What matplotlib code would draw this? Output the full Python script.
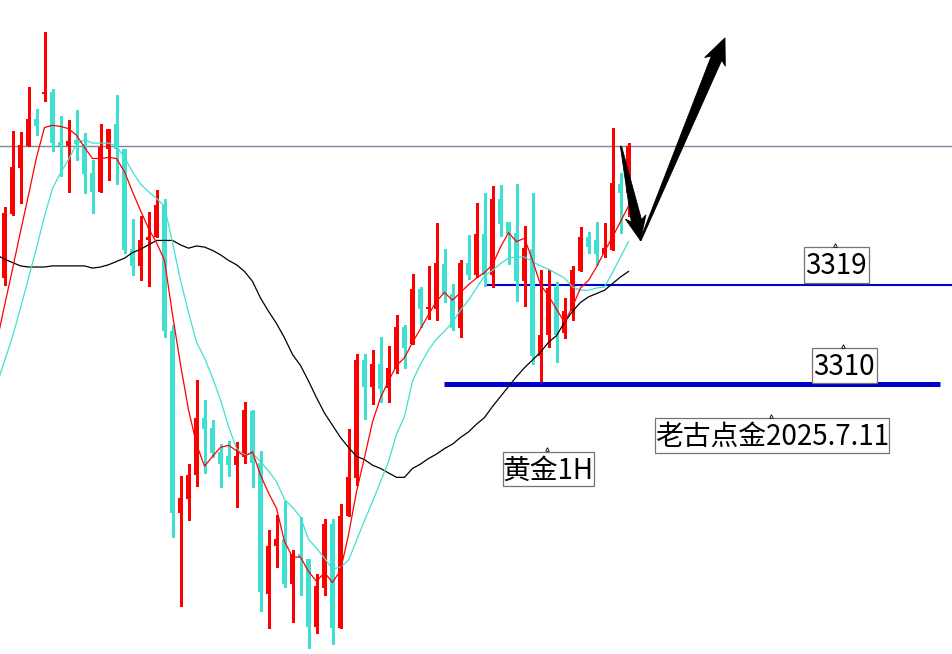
import numpy as np
import matplotlib
matplotlib.use("Agg")
import matplotlib.pyplot as plt
from matplotlib.patches import Polygon, Rectangle
from matplotlib.transforms import Affine2D, IdentityTransform

# ---- Gold 1H candles (price) ----
opens = [3319.6, 3325.4, 3329.5, 3331.5, 3334.0, 3336.2, 3336.4, 3331.9, 3331.5, 3332.1,
         3331.7, 3329.1, 3327.4, 3331.3, 3333.5, 3331.3, 3322.2, 3320.7, 3323.0, 3323.3,
         3326.2, 3314.8, 3298.4, 3299.6, 3301.8, 3307.0, 3306.1, 3303.9, 3303.5, 3302.7,
         3303.4, 3307.6, 3302.9, 3291.1, 3295.4, 3296.0, 3292.0, 3294.7, 3294.2, 3288.1,
         3291.6, 3297.4, 3288.0, 3298.1, 3301.5, 3312.2, 3309.8, 3311.8, 3309.7, 3311.4,
         3315.2, 3313.6, 3318.6, 3316.8, 3316.8, 3320.9, 3318.2, 3315.1, 3321.0, 3319.9,
         3323.6, 3319.9, 3326.7, 3324.7, 3323.7, 3319.3, 3322.2, 3312.6, 3314.5, 3318.8,
         3314.6, 3316.6, 3320.2, 3323.3, 3323.0, 3321.8, 3322.1, 3328.1, 3327.3]
highs = [3326.0, 3332.9, 3332.8, 3336.9, 3334.9, 3341.8, 3336.7, 3334.2, 3333.9, 3334.8,
         3332.7, 3330.3, 3333.5, 3333.1, 3336.1, 3331.3, 3324.9, 3325.2, 3325.6, 3327.6,
         3326.7, 3315.4, 3301.7, 3302.8, 3310.4, 3308.6, 3306.8, 3304.6, 3304.9, 3304.8,
         3308.4, 3307.7, 3304.0, 3296.8, 3298.2, 3299.5, 3295.0, 3298.0, 3294.2, 3292.9,
         3297.8, 3297.8, 3299.2, 3306.0, 3312.7, 3312.7, 3313.1, 3314.3, 3313.5, 3316.3,
         3315.4, 3320.0, 3318.8, 3320.7, 3324.6, 3322.2, 3319.1, 3321.2, 3323.5, 3326.4,
         3327.3, 3327.9, 3328.0, 3324.7, 3328.1, 3324.3, 3327.3, 3320.3, 3320.3, 3319.2,
         3317.8, 3320.7, 3324.2, 3323.8, 3324.7, 3324.6, 3333.2, 3329.1, 3331.8]
lows = [3319.0, 3325.3, 3326.4, 3331.5, 3332.5, 3335.6, 3331.1, 3328.8, 3327.4, 3330.3,
        3327.3, 3325.5, 3327.4, 3328.5, 3328.1, 3321.9, 3319.9, 3319.4, 3318.9, 3323.3,
        3314.3, 3296.2, 3290.0, 3297.7, 3300.8, 3302.0, 3303.4, 3300.7, 3301.7, 3298.9,
        3302.9, 3300.7, 3289.5, 3288.0, 3293.5, 3291.7, 3288.5, 3291.0, 3286.2, 3287.5,
        3291.0, 3286.5, 3288.0, 3298.1, 3300.9, 3306.9, 3308.2, 3308.4, 3308.4, 3311.0,
        3311.5, 3313.6, 3315.2, 3315.9, 3315.8, 3317.4, 3314.9, 3314.3, 3319.5, 3319.7,
        3318.9, 3318.8, 3323.4, 3320.9, 3317.5, 3317.1, 3311.8, 3310.3, 3313.4, 3312.0,
        3314.2, 3315.8, 3320.2, 3321.9, 3320.8, 3321.5, 3322.1, 3323.7, 3325.2]
closes = [3325.5, 3329.6, 3331.6, 3334.0, 3333.3, 3336.4, 3331.8, 3331.5, 3332.0, 3331.7,
          3329.0, 3327.4, 3331.4, 3333.1, 3331.3, 3322.1, 3320.7, 3323.0, 3323.3, 3326.2,
          3314.8, 3298.4, 3299.7, 3301.8, 3307.0, 3306.0, 3303.8, 3302.8, 3302.7, 3303.5,
          3307.7, 3302.9, 3291.2, 3295.4, 3296.0, 3292.0, 3294.7, 3294.3, 3288.1, 3291.8,
          3297.4, 3288.0, 3298.1, 3301.6, 3312.2, 3309.8, 3311.8, 3309.6, 3311.5, 3315.2,
          3313.3, 3318.6, 3316.8, 3317.0, 3321.0, 3318.2, 3315.1, 3321.0, 3319.9, 3323.6,
          3319.9, 3326.7, 3324.5, 3323.6, 3319.3, 3322.3, 3312.6, 3314.5, 3318.7, 3314.5,
          3316.6, 3320.3, 3323.3, 3322.4, 3321.8, 3322.3, 3328.2, 3327.3, 3331.5]

# ---- moving averages, starting one bar before the first visible candle ----
ma_fast = [3313.7, 3317.1, 3320.4, 3323.8, 3327.1, 3330.5, 3333.2, 3333.4, 3333.3, 3333.1, 3332.5,
           3331.4, 3330.4, 3330.4, 3330.5, 3330.4, 3329.2, 3327.4, 3325.7, 3324.1, 3322.8,
           3321.2, 3316.3, 3311.8, 3307.7, 3304.6, 3302.6, 3303.5, 3304.3, 3304.5, 3304.0,
           3303.5, 3303.9, 3301.8, 3300.2, 3298.8, 3295.8, 3294.4, 3294.4, 3293.1, 3292.2,
           3293.0, 3292.1, 3293.2, 3296.4, 3300.3, 3303.4, 3306.6, 3308.8, 3310.3, 3311.7,
           3312.4, 3313.8, 3315.0, 3316.3, 3317.5, 3318.3, 3317.6, 3318.3, 3319.0, 3319.6,
           3320.1, 3320.8, 3322.4, 3323.7, 3322.9, 3323.2, 3321.2, 3319.0, 3318.0, 3316.8,
           3315.6, 3317.0, 3318.7, 3319.4, 3320.6, 3322.0, 3323.3, 3324.7, 3326.1]
ma_mid = [3309.9, 3312.1, 3314.3, 3316.9, 3319.6, 3322.3, 3325.2, 3327.7, 3329.1, 3330.3, 3331.7,
          3332.1, 3331.8, 3331.8, 3331.8, 3331.5, 3330.5, 3329.2, 3328.1, 3327.4, 3326.8,
          3326.1, 3322.8, 3319.4, 3316.5, 3313.8, 3312.4, 3310.6, 3308.6, 3306.2, 3304.2,
          3303.6, 3303.8, 3303.0, 3302.2, 3301.2, 3299.6, 3298.9, 3298.0, 3296.0, 3295.2,
          3294.3, 3293.3, 3293.5, 3294.1, 3295.9, 3297.7, 3299.4, 3301.2, 3303.0, 3305.5,
          3307.1, 3310.3, 3311.8, 3313.1, 3314.1, 3314.8, 3315.6, 3316.7, 3317.6, 3318.7,
          3319.8, 3320.3, 3320.9, 3321.4, 3321.5, 3321.5, 3321.1, 3320.7, 3320.4, 3320.0,
          3319.6, 3318.8, 3318.5, 3318.5, 3318.7, 3318.8, 3320.1, 3321.5, 3322.9]
ma_slow = [3321.7, 3321.3, 3321.0, 3320.7, 3320.6, 3320.6, 3320.6, 3320.7, 3320.7, 3320.7, 3320.7,
           3320.7, 3320.5, 3320.6, 3320.8, 3321.1, 3321.4, 3321.9, 3322.2, 3322.6, 3323.0,
           3323.0, 3323.0, 3322.6, 3322.3, 3322.5, 3322.4, 3322.1, 3321.7, 3321.2, 3320.8,
           3320.2, 3319.3, 3317.8, 3316.6, 3315.5, 3314.2, 3312.7, 3311.7, 3310.3, 3308.8,
           3307.4, 3306.3, 3305.2, 3304.3, 3303.5, 3303.2, 3302.7, 3302.4, 3302.0, 3301.6,
           3301.6, 3302.4, 3302.8, 3303.3, 3303.7, 3304.2, 3304.6, 3305.2, 3305.7, 3306.4,
           3307.0, 3308.0, 3308.9, 3309.8, 3310.7, 3311.5, 3312.2, 3312.9, 3313.8, 3314.4,
           3315.6, 3316.6, 3317.4, 3317.9, 3318.2, 3318.5, 3319.1, 3319.7, 3320.2]

# ---- reference levels and annotations ----
resistance_level = 3331.5
support_levels = [3319, 3310]
support_spans = [(60.06, 118.5), (54.94, 116.94)]
support_widths = [1.5, 3.6]
chart_title = "黄金1H"
author_tag = "老古点金2025.7.11"
# forecast path: pull-back leg then rally leg (bar index, price)
forecast_path = [(77.06, 3331.5), (79.5, 3323.0), (90.06, 3341.3)]

UP = "#ff0000"
DOWN = "#40e0d0"
BLUE = "#0000cc"
FONT = ["Noto Sans CJK SC", "DejaVu Sans"]

W, H = 952, 654
fig = plt.figure(figsize=(W / 100, H / 100), dpi=100)
ax = fig.add_axes([0, 0, 1, 1])
ax.axis("off")
ax.set_xlim(-0.5625, 118.4375)
ax.set_ylim(3285.64, 3344.72)

o = np.array(opens); h = np.array(highs); l = np.array(lows); c = np.array(closes)
x = np.arange(len(o))
up = c >= o
cols = np.where(up, UP, DOWN)

# wicks and bodies
ax.vlines(x, l, h, colors=cols, linewidth=1.0, antialiased=False, zorder=3)
body_h = np.where(np.abs(c - o) < 0.15, 0.15, c - o)
ax.bar(x, body_h, bottom=o, width=0.72, color=cols, linewidth=0,
       antialiased=False, zorder=4)

# moving averages
xm = np.arange(-1, len(ma_fast) - 1)
ax.plot(xm, ma_slow, color="black", lw=0.9, zorder=5)
ax.plot(xm, ma_mid, color=DOWN, lw=0.9, zorder=5)
ax.plot(xm, ma_fast, color=UP, lw=0.9, zorder=6)

# horizontal levels
ax.axhline(resistance_level, color="#778899", lw=1.0, zorder=2)
for lvl, (x0, x1), lw in zip(support_levels, support_spans, support_widths):
    ax.hlines(lvl, x0, x1, colors=BLUE, linewidth=lw, zorder=2)

# text boxes placed in pixel space (y down from top): text, left, top, right, bottom
pix = Affine2D().scale(1 / W, -1 / H).translate(0, 1) + fig.transFigure
labels = [(f"{support_levels[0]}", 804.0, 247.3, 868.7, 282.7),
          (f"{support_levels[1]}", 812.0, 348.3, 876.7, 383.3),
          (author_tag, 655.3, 418.3, 889.0, 452.7),
          (chart_title, 502.7, 451.7, 594.0, 486.0)]
for txt, x0, y0, x1, y1 in labels:
    ax.add_patch(Rectangle((x0, y0), x1 - x0, y1 - y0, transform=pix, fc="white",
                           ec="#7d7264", lw=0.9, zorder=8))
    cx, cy = (x0 + x1) / 2, (y0 + y1) / 2
    ax.text(cx, cy + 1.5, txt, transform=pix, ha="center", va="center", fontsize=20,
            family=FONT, color="black", zorder=9)
    ax.plot([cx - 1], [y0 - 2.5], transform=pix, marker="^", ms=2.6, mfc="white",
            mec="black", mew=0.6, zorder=9)


def tapered_arrow(p0, p1, head_len, head_hw, shaft_hw, tail_hw=0.6):
    """Wedge-shaped arrow from p0 to p1 built in display pixels."""
    a = ax.transData.transform(p0)
    b = ax.transData.transform(p1)
    d = b - a
    u = d / np.hypot(*d)
    n = np.array([-u[1], u[0]])
    base = b - u * head_len
    pts = [a + n * tail_hw, base + n * shaft_hw, base + n * head_hw - u * 4,
           b, base - n * head_hw - u * 4, base - n * shaft_hw, a - n * tail_hw]
    ax.add_patch(Polygon(pts, closed=True, transform=IdentityTransform(),
                         fc="black", ec="black", lw=0.6, zorder=10))


tapered_arrow(forecast_path[0], forecast_path[1], 20, 10.5, 5.2)
tapered_arrow(forecast_path[1], forecast_path[2], 22, 11.2, 5.6)

fig.savefig("out.png", dpi=100, facecolor="white")
